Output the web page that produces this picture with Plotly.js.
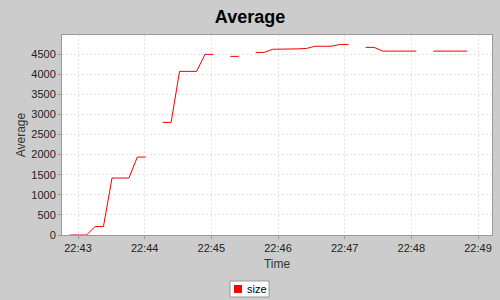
<!DOCTYPE html>
<html>
<head>
<meta charset="utf-8">
<script src="https://cdn.plot.ly/plotly-3.0.1.min.js"></script>
<style>html,body{margin:0;padding:0;background:#cccccc;}#chart{width:500px;height:300px;}</style>
</head>
<body>
<div id="chart"></div>
<script>
// Data
var times = [
  "2024-01-01 22:42:52.5","2024-01-01 22:43:00.1","2024-01-01 22:43:07.7","2024-01-01 22:43:15.3",
  "2024-01-01 22:43:22.9","2024-01-01 22:43:30.6","2024-01-01 22:43:38.2","2024-01-01 22:43:45.8",
  "2024-01-01 22:43:53.4","2024-01-01 22:44:01.0","2024-01-01 22:44:08.6","2024-01-01 22:44:16.2",
  "2024-01-01 22:44:23.8","2024-01-01 22:44:31.4","2024-01-01 22:44:39.0","2024-01-01 22:44:46.7",
  "2024-01-01 22:44:54.3","2024-01-01 22:45:01.9","2024-01-01 22:45:09.5","2024-01-01 22:45:17.1",
  "2024-01-01 22:45:24.7","2024-01-01 22:45:32.3","2024-01-01 22:45:39.9","2024-01-01 22:45:47.5",
  "2024-01-01 22:45:55.1","2024-01-01 22:46:02.8","2024-01-01 22:46:10.4","2024-01-01 22:46:18.0",
  "2024-01-01 22:46:25.6","2024-01-01 22:46:33.2","2024-01-01 22:46:40.8","2024-01-01 22:46:48.4",
  "2024-01-01 22:46:56.0","2024-01-01 22:47:03.6","2024-01-01 22:47:11.2","2024-01-01 22:47:18.9",
  "2024-01-01 22:47:26.5","2024-01-01 22:47:34.1","2024-01-01 22:47:41.7","2024-01-01 22:47:49.3",
  "2024-01-01 22:47:56.9","2024-01-01 22:48:04.5","2024-01-01 22:48:12.1","2024-01-01 22:48:19.7",
  "2024-01-01 22:48:27.3","2024-01-01 22:48:35.0","2024-01-01 22:48:42.6","2024-01-01 22:48:50.2"
];
var sizeAvg = [
  0, 0, 0, 210,
  210, 1417, 1417, 1417,
  1939, 1939, null, 2802,
  2802, 4070, 4070, 4070,
  4493, 4493, null, 4443,
  4443, null, 4542, 4542,
  4620, 4620, 4620, 4630,
  4640, 4695, 4695, 4697,
  4741, 4741, null, 4667,
  4667, 4575, 4575, 4575,
  4575, 4575, null, 4575,
  4575, 4575, 4575, 4575
];
var seriesName = "size";
var yTicks = [0, 500, 1000, 1500, 2000, 2500, 3000, 3500, 4000, 4500];
var xRange = ["2024-01-01 22:42:45.6", "2024-01-01 22:49:12.6"];
var yRange = [0, 4975];

// pixel -> paper helpers (plot area 62..492 x 35..235)
var L = 62, R = 492, T = 35, B = 235;
function px(x){ return (x - L) / (R - L); }
function py(y){ return (B - y) / (B - T); }

var font = "Liberation Sans, Arial, sans-serif";

var trace = {
  type: "scatter", mode: "lines", x: times, y: sizeAvg, name: seriesName,
  connectgaps: false, line: {color: "#f00000", width: 1}, showlegend: false
};

var layout = {
  width: 500, height: 300,
  paper_bgcolor: "#cccccc", plot_bgcolor: "#ffffff",
  margin: {l: L, r: 500 - R, t: T, b: 300 - B, pad: 0},
  font: {family: font, size: 11, color: "#444444"},
  title: {text: "<b>Average</b>", font: {family: font, size: 18, color: "#000000"},
          x: 0.5, xref: "container", xanchor: "center", y: 1 - 17/300, yref: "container", yanchor: "middle"},
  xaxis: {
    type: "date", range: xRange, dtick: 60000, tick0: "2024-01-01 22:43:00", tickformat: "%H:%M",
    showgrid: true, gridcolor: "#e2e2e2", griddash: "2px,2px", gridwidth: 1,
    showline: true, linecolor: "#999999", linewidth: 1, mirror: true,
    ticks: "outside", ticklen: 3, tickcolor: "#999999",
    tickfont: {family: font, size: 11, color: "#222222"},
    zeroline: false, fixedrange: true,
    title: {text: "Time", font: {family: font, size: 12, color: "#333333"}, standoff: 6}
  },
  yaxis: {
    range: yRange, tickvals: yTicks, ticktext: yTicks.map(String),
    showgrid: true, gridcolor: "#e2e2e2", griddash: "2px,2px", gridwidth: 1,
    showline: true, linecolor: "#999999", linewidth: 1, mirror: true,
    ticks: "outside", ticklen: 3, tickcolor: "#999999",
    tickfont: {family: font, size: 11, color: "#222222"},
    zeroline: false, fixedrange: true,
    title: {text: "Average", font: {family: font, size: 12, color: "#333333"}, standoff: 3}
  },
  shapes: [
    {type: "rect", xref: "paper", yref: "paper", x0: px(230), x1: px(269), y0: py(281), y1: py(297),
     fillcolor: "#ffffff", line: {color: "#999999", width: 1}},
    {type: "rect", xref: "paper", yref: "paper", x0: px(234), x1: px(242), y0: py(285), y1: py(293),
     fillcolor: "#ff0000", line: {width: 0}}
  ],
  annotations: [
    {xref: "paper", yref: "paper", x: px(245), y: py(289), xanchor: "left", yanchor: "middle",
     text: seriesName, showarrow: false, font: {family: font, size: 11, color: "#000000"}}
  ]
};

Plotly.newPlot("chart", [trace], layout, {displayModeBar: false, staticPlot: true});
</script>
</body>
</html>
